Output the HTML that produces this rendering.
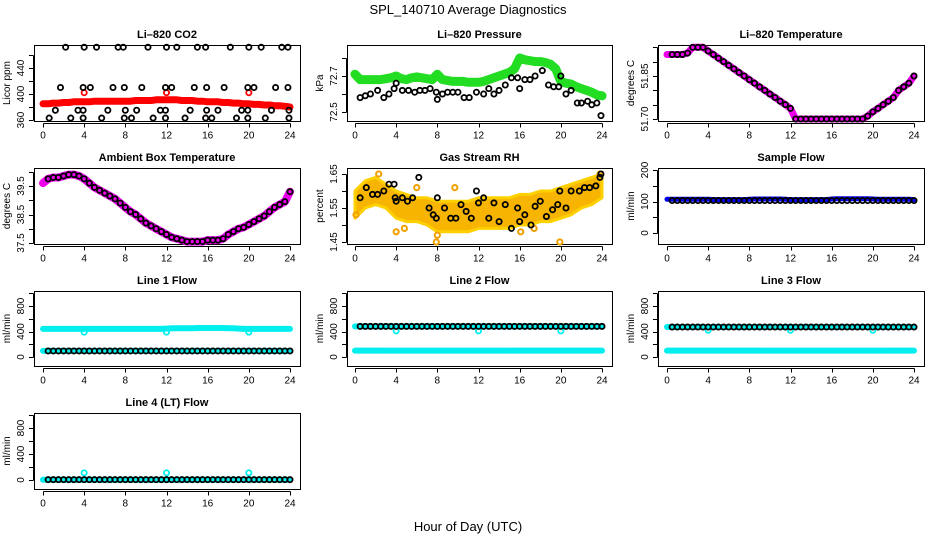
<!DOCTYPE html>
<html><head><meta charset="utf-8"><style>
html,body{margin:0;padding:0;background:#fff;}
svg{display:block;font-family:"Liberation Sans",Arial,sans-serif;}
</style></head><body>
<svg id="chart" width="936" height="540" viewBox="0 0 936 540" xmlns="http://www.w3.org/2000/svg">
<text x="468" y="14" text-anchor="middle" font-size="13">SPL_140710  Average Diagnostics</text>
<text x="468" y="531" text-anchor="middle" font-size="13">Hour of Day (UTC)</text>
</svg>
<script>
// ---- data ----
const hoursHalf = [0,0.5,1,1.5,2,2.5,3,3.5,4,4.5,5,5.5,6,6.5,7,7.5,8,8.5,9,9.5,10,10.5,11,11.5,12,12.5,13,13.5,14,14.5,15,15.5,16,16.5,17,17.5,18,18.5,19,19.5,20,20.5,21,21.5,22,22.5,23,23.5,24];
const xTicks = [0,4,8,12,16,20,24];

const co2Band = [385,385,386,386,387,387,388,388,388,388,389,389,389,389,389,389,389,389,390,390,390,390,391,391,391,391,391,390,390,390,389,389,388,388,388,387,387,386,386,385,385,384,384,383,383,382,382,381,380];
const co2BlackX = [2.2,4,5.2,7.3,7.8,10.2,12,13,15,15.8,18.2,20,21.2,23.2,23.8, 1.7,3.9,4.6,6.8,7.9,9.6,11.9,12.5,14.7,15.9,17.6,19.9,20.5,22.6,23.8, 1.2,3.4,3.9,6.3,8,9.1,11.4,11.9,14.3,15.9,17,19.3,19.9,22.2,23.9, 0.6,2.7,3.9,5.7,7.9,8.6,10.7,11.9,13.8,15.8,16.4,18.8,19.9,21.6,23.9];
const co2BlackY = [472,472,472,472,472,472,472,472,472,472,472,472,472,472,472, 410,410,410,410,410,410,410,410,410,410,410,410,410,410,410, 375,375,375,375,375,375,375,375,375,375,375,375,375,375,375, 363,363,363,363,363,363,363,363,363,363,363,363,363,363,363];
const co2RedX = [4,12,20];
const co2RedY = [402,402,402];

const presBand = [72.71,72.68,72.68,72.68,72.68,72.68,72.685,72.69,72.70,72.685,72.68,72.69,72.695,72.69,72.685,72.68,72.71,72.68,72.675,72.67,72.67,72.67,72.665,72.665,72.665,72.67,72.68,72.69,72.70,72.71,72.72,72.74,72.80,72.79,72.785,72.78,72.78,72.775,72.765,72.74,72.67,72.66,72.655,72.64,72.63,72.62,72.61,72.595,72.59];
const presBlackX = [0.5,1,1.5,2.2,2.8,3.3,3.8,4,4.6,5.2,5.8,6.3,6.8,7.3,7.9,8,8.5,9,9.5,10,10.6,11.1,11.8,12.5,13,13.5,14,14.6,15.2,15.8,16,16.5,17,17.5,18.2,18.8,19.3,19.8,20,20.5,21,21.6,22,22.6,23,23.5,23.9];
const presBlackY = [72.58,72.59,72.60,72.62,72.58,72.60,72.63,72.66,72.62,72.62,72.61,72.62,72.62,72.63,72.61,72.57,72.60,72.61,72.61,72.61,72.58,72.58,72.61,72.60,72.63,72.60,72.62,72.65,72.69,72.69,72.63,72.68,72.68,72.70,72.73,72.65,72.64,72.64,72.70,72.60,72.62,72.55,72.55,72.56,72.54,72.55,72.48];

const ltempBand = [51.925,51.925,51.925,51.925,51.93,51.95,51.95,51.95,51.937,51.925,51.912,51.9,51.887,51.875,51.862,51.85,51.837,51.825,51.812,51.8,51.787,51.775,51.762,51.75,51.737,51.70,51.70,51.70,51.70,51.70,51.70,51.70,51.70,51.70,51.70,51.70,51.70,51.70,51.70,51.71,51.725,51.737,51.75,51.762,51.775,51.8,51.812,51.825,51.85];

const ambTemp = [39.6,39.75,39.8,39.8,39.85,39.9,39.9,39.85,39.75,39.6,39.45,39.35,39.25,39.15,39.05,38.9,38.75,38.6,38.5,38.35,38.2,38.1,38.0,37.9,37.8,37.7,37.65,37.6,37.55,37.55,37.55,37.55,37.6,37.6,37.6,37.65,37.8,37.9,38.0,38.05,38.15,38.25,38.35,38.45,38.6,38.75,38.85,38.95,39.3];

const rhHours = [0,1,2,3,4,5,6,7,8,9,10,11,12,13,14,15,16,17,18,19,20,21,22,23,24];
const rhLow  = [1.52,1.55,1.56,1.55,1.52,1.51,1.51,1.50,1.48,1.48,1.48,1.48,1.49,1.49,1.49,1.49,1.50,1.50,1.51,1.51,1.52,1.53,1.55,1.56,1.58];
const rhHigh = [1.60,1.63,1.64,1.62,1.60,1.59,1.58,1.58,1.57,1.57,1.57,1.57,1.58,1.58,1.58,1.58,1.59,1.59,1.60,1.60,1.61,1.62,1.63,1.64,1.65];
const rhOutX = [0.1,2.3,4.0,4.8,6.0,7.9,8.0,9.7,16.1,17.4,19.9,23.8];
const rhOutY = [1.53,1.65,1.48,1.49,1.61,1.45,1.47,1.61,1.48,1.49,1.45,1.65];
const rhBlackX = [0.5,1.1,1.7,2.2,2.8,3.3,3.8,3.9,4,4.6,5.1,5.6,6.2,7.2,7.6,7.9,8,8.7,9.3,9.8,10.3,10.8,11.3,11.8,12,12.5,13,13.5,14,14.6,15.2,15.8,16,16.5,17.1,17.5,18,18.6,19.2,19.7,19.9,20.5,21,21.8,22.3,22.8,23.4,23.8,23.9];
const rhBlackY = [1.58,1.61,1.59,1.59,1.60,1.62,1.62,1.58,1.57,1.58,1.57,1.58,1.64,1.55,1.53,1.52,1.58,1.55,1.52,1.52,1.56,1.54,1.52,1.60,1.565,1.58,1.52,1.565,1.51,1.56,1.49,1.55,1.51,1.53,1.50,1.555,1.57,1.525,1.545,1.56,1.60,1.55,1.60,1.60,1.61,1.61,1.615,1.64,1.65];

const sampBlue = [107,107,107,107,107,107,107,107,107,106,106,106,106,106,106,106,107,108,108,108,108,108,108,107,106,106,106,106,106,106,106,106,108,109,109,109,109,109,109,109,108,107,107,107,107,107,107,107,106];
const sampBlack = [103,103,103,103,103,103,103,103,103,103,103,103,103,103,103,103,103,103,103,103,103,103,103,103,103,103,103,103,103,103,103,103,103,103,103,103,103,103,103,103,103,103,103,103,103,103,103,103,103];

const l1Cyan = [440,440,440,440,440,440,440,440,440,440,440,440,440,440,440,440,440,440,440,440,440,440,440,440,445,450,450,450,450,450,455,455,455,455,455,455,450,450,445,440,440,440,440,440,440,440,440,440,440];
const l1Black = [95,95,95,95,95,95,95,95,95,95,95,95,95,95,95,95,95,95,95,95,95,95,95,95,95,95,95,95,95,95,95,95,95,95,95,95,95,95,95,95,95,95,95,95,95,95,95,95,95];
const l2Black = [480,480,480,480,480,480,480,480,480,480,480,480,480,480,480,480,480,480,480,480,480,480,480,480,480,480,480,480,480,480,480,480,480,480,480,480,480,480,480,480,480,480,480,480,480,480,480,480,480];
const l2Cyan = [100,100,100,100,100,100,100,100,100,100,100,100,100,100,100,100,100,100,100,100,100,100,100,100,100,100,100,100,100,100,100,100,100,100,100,100,100,100,100,100,100,100,100,100,100,100,100,100,100];
const l3Black = [470,470,470,470,470,470,470,470,470,470,470,470,470,470,470,470,470,470,470,470,470,470,470,470,470,470,470,470,470,470,470,470,470,470,470,470,470,470,470,470,470,470,470,470,470,470,470,470,470];
const l3Cyan = [100,100,100,100,100,100,100,100,100,100,100,100,100,100,100,100,100,100,100,100,100,100,100,100,100,100,100,100,100,100,100,100,100,100,100,100,100,100,100,100,100,100,100,100,100,100,100,100,100];
const l4Black = [5,5,5,5,5,5,5,5,5,5,5,5,5,5,5,5,5,5,5,5,5,5,5,5,5,5,5,5,5,5,5,5,5,5,5,5,5,5,5,5,5,5,5,5,5,5,5,5,5];
const flowOutX = [4,12,20];
const l1OutY = [390,390,390];
const l2OutY = [410,410,410];
const l3OutY = [420,420,420];
const l4OutY = [110,110,110];

// ---- layout ----
const NS = "http://www.w3.org/2000/svg";
const svg = document.getElementById('chart');
function el(tag, attrs, parent){ const e=document.createElementNS(NS,tag); for(const k in attrs) e.setAttribute(k,attrs[k]); (parent||svg).appendChild(e); return e; }
const px = v => Math.round(v)+0.5;

const cols = [{l:34,r:300,x0:43,x24:290},{l:347,r:612,x0:355,x24:602},{l:658,r:924,x0:667,x24:914}];
const rows = [{t:45,b:121},{t:168,b:244},{t:291,b:366},{t:413,b:489}];

function panel(name, title, col, row, yTitle, v0, py0, v1, py1, ticks, labels){
  const C=cols[col], R=rows[row];
  const g = el('g',{});
  
  
  const xs = h => C.x0 + (h/24)*(C.x24-C.x0);
  const ys = v => py0 + (v-v0)*(py1-py0)/(v1-v0);
  const t = el('text',{x:(C.l+C.r)/2,y:R.t-7,'text-anchor':'middle','font-size':'11','font-weight':'bold'},g);
  t.textContent = title;
  
  
  const plot = el('g',{},g);
  
  
  const clip = 'clip-'+name;
  const cp = el('clipPath',{id:clip},g); el('rect',{x:C.l,y:R.t-6,width:C.r-C.l,height:R.b-R.t+12},cp);
  const marks = el('g',{'clip-path':'url(#'+clip+')'},g);
  el('rect',{x:C.l+0.5,y:R.t+0.5,width:C.r-C.l,height:R.b-R.t,fill:'none',stroke:'#000','stroke-width':1},plot);
  const ya = el('g',{},g);
  
  
  const ax = C.l-1;
  el('line',{x1:ax+0.5,x2:ax+0.5,y1:px(ys(ticks[0])),y2:px(ys(ticks[ticks.length-1])),stroke:'#000'},ya);
  ticks.forEach(v=>{ el('line',{x1:ax-4,x2:ax+0.5,y1:px(ys(v)),y2:px(ys(v)),stroke:'#000'},ya); });
  labels.forEach(v=>{
    const y=ys(v);
    const tx = el('text',{x:ax-9,y:y,'font-size':'10','text-anchor':'middle',transform:`rotate(-90 ${ax-9} ${y})`},ya);
    tx.textContent = v.toString();
    
    
  });
  const yt = el('text',{x:C.l-24,y:(R.t+R.b)/2,'font-size':'10','text-anchor':'middle',transform:`rotate(-90 ${C.l-24} ${(R.t+R.b)/2})`},g);
  yt.textContent = yTitle;
  
  
  const xa = el('g',{},g);
  
  
  const ay = R.b+2.5;
  el('line',{x1:px(xs(0)),x2:px(xs(24)),y1:ay,y2:ay,stroke:'#000'},xa);
  xTicks.forEach(h=>{
    el('line',{x1:px(xs(h)),x2:px(xs(h)),y1:ay,y2:ay+4,stroke:'#000'},xa);
    const tx = el('text',{x:xs(h),y:ay+15,'font-size':'10','text-anchor':'middle'},xa);
    tx.textContent = h;
    
    
  });
  return {xs,ys,marks};
}
function band(P, hx, vals, color, w, nm){
  const pts = hx.map((h,i)=>P.xs(h).toFixed(1)+','+P.ys(vals[i]).toFixed(1)).join(' ');
  const pl = el('polyline',{points:pts,fill:'none',stroke:color,'stroke-width':w,'stroke-linecap':'round','stroke-linejoin':'round'},P.marks);
  
  
}
function pts(P, hx, vals, color, nm, r, sw){
  const g = el('g',{},P.marks);
  
  
  hx.forEach((h,i)=>{
    const c = el('circle',{cx:P.xs(h),cy:P.ys(vals[i]),r:r||2.6,fill:'none',stroke:color,'stroke-width':sw||1.8},g);
    
    
  });
}
const blackX = hoursHalf.slice(1);

let P = panel('co2-panel','Li\u2013820 CO2',0,0,'Licor ppm',360,120,440,68,[360,380,400,420,440,460],[360,400,440]);
band(P,hoursHalf,co2Band,'#f00',7,'co2-red-band');
pts(P,co2RedX,co2RedY,'#f00','co2-red-outliers');
pts(P,co2BlackX,co2BlackY,'#000','co2-black-points');

P = panel('pressure-panel','Li\u2013820 Pressure',1,0,'kPa',72.5,112,72.7,76,[72.5,72.6,72.7,72.8],[72.5,72.7]);
band(P,hoursHalf,presBand,'#22dd22',9,'pressure-green-band');
pts(P,presBlackX,presBlackY,'#000','pressure-black-points');

P = panel('li-temp-panel','Li\u2013820 Temperature',2,0,'degrees C',51.70,119,51.85,76,[51.70,51.75,51.80,51.85,51.90,51.95],['51.70','51.85']);
band(P,hoursHalf,ltempBand,'#ee00ee',7,'li-temp-magenta-band');
pts(P,blackX,ltempBand.slice(1),'#000','li-temp-black-points');

P = panel('ambient-temp-panel','Ambient Box Temperature',0,1,'degrees C',37.5,243,39.5,186,[37.5,38,38.5,39,39.5,40],[37.5,38.5,39.5]);
band(P,hoursHalf,ambTemp,'#ee00ee',8,'ambient-magenta-band');
pts(P,blackX,ambTemp.slice(1),'#000','ambient-black-points');

P = panel('rh-panel','Gas Stream RH',1,1,'percent',1.45,242,1.65,174,[1.45,1.50,1.55,1.60,1.65],['1.45','1.55','1.65']);
{
  const up = rhHours.map((h,i)=>P.xs(h).toFixed(1)+','+P.ys(rhHigh[i]).toFixed(1));
  const dn = rhHours.map((h,i)=>P.xs(h).toFixed(1)+','+P.ys(rhLow[i]).toFixed(1)).reverse();
  const pg = el('polygon',{points:up.concat(dn).join(' '),fill:'#f7b400',stroke:'#ffd000','stroke-width':3,'stroke-linejoin':'round'},P.marks);
  
  
}
pts(P,rhOutX,rhOutY,'#f0a000','rh-orange-outliers',2.6,2);
pts(P,rhBlackX,rhBlackY,'#000','rh-black-points');

P = panel('sample-flow-panel','Sample Flow',2,1,'ml/min',0,233,200,170,[0,50,100,150,200],[0,100,200]);
band(P,hoursHalf,sampBlue,'#0000ee',5,'sample-flow-blue-band');
pts(P,blackX,sampBlack.slice(1),'#000','sample-flow-black-points');

const fTicks=[0,200,400,600,800,1000], fLabels=[0,400,800];
P = panel('line1-flow-panel','Line 1 Flow',0,2,'ml/min',0,357,800,306,fTicks,fLabels);
band(P,hoursHalf,l1Cyan,'#00eeee',6,'line1-cyan-band');
band(P,hoursHalf,l1Black,'#00eeee',6,'line1-cyan-low-band');
pts(P,flowOutX,l1OutY,'#00eeee','line1-cyan-outliers');
pts(P,blackX,l1Black.slice(1),'#000','line1-black-points');

P = panel('line2-flow-panel','Line 2 Flow',1,2,'ml/min',0,357,800,306,fTicks,fLabels);
band(P,hoursHalf,l2Cyan,'#00eeee',6,'line2-cyan-band');
band(P,hoursHalf,l2Black,'#00eeee',6,'line2-cyan-high-band');
pts(P,flowOutX,l2OutY,'#00eeee','line2-cyan-outliers');
pts(P,blackX,l2Black.slice(1),'#000','line2-black-points');

P = panel('line3-flow-panel','Line 3 Flow',2,2,'ml/min',0,357,800,306,fTicks,fLabels);
band(P,hoursHalf,l3Cyan,'#00eeee',6,'line3-cyan-band');
band(P,hoursHalf,l3Black,'#00eeee',6,'line3-cyan-high-band');
pts(P,flowOutX,l3OutY,'#00eeee','line3-cyan-outliers');
pts(P,blackX,l3Black.slice(1),'#000','line3-black-points');

P = panel('line4-flow-panel','Line 4 (LT) Flow',0,3,'ml/min',0,480,800,428,fTicks,fLabels);
band(P,hoursHalf,l4Black,'#00eeee',6,'line4-cyan-band');
pts(P,flowOutX,l4OutY,'#00eeee','line4-cyan-outliers');
pts(P,blackX,l4Black.slice(1),'#000','line4-black-points');
</script>
</body></html>
